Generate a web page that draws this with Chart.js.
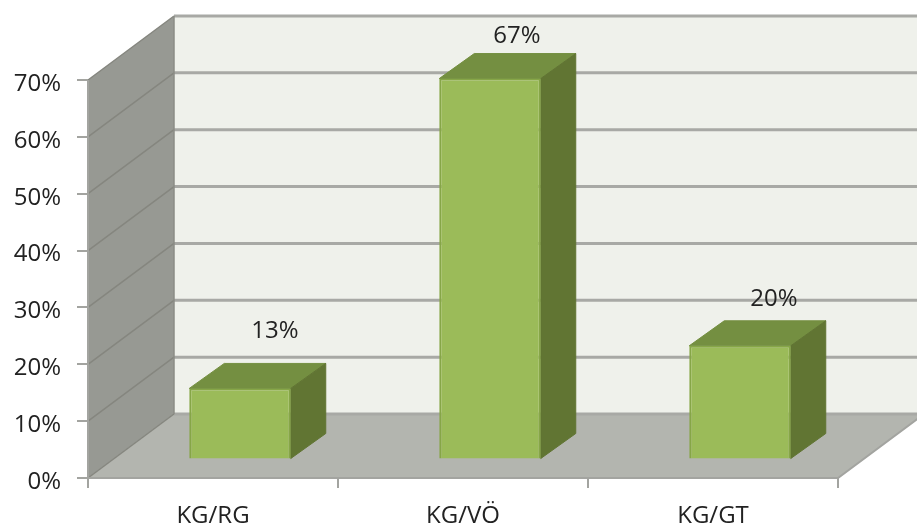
<!DOCTYPE html>
<html lang="de">
<head>
  <meta charset="UTF-8" />
  <title>KG</title>
  <style>
    html, body { margin: 0; padding: 0; background: #fff; }
    canvas { display: block; }
  </style>
</head>
<body>
  <canvas id="grafico" width="917" height="525"></canvas>
  <script src="https://cdn.jsdelivr.net/npm/chart.js"></script>
  <script>
    const categorias = ["KG/RG", "KG/VÖ", "KG/GT"];
    const valores = [12.5, 67, 20];
    const etiquetas = ["13%", "67%", "20%"];
    const yMax = 70;
    const yPaso = 10;

    // 3D look: depth of the room and of the bars, and where the bars sit on the floor
    const PARED = { dx: 86, dy: -64 };
    const CAJA = { dx: 35, dy: -25 };
    const DESPLAZA = { dx: 27, dy: -18.5 };
    const ETIQUETA_OFFSET = [{ x: 35, y: -57 }, { x: 27, y: -42 }, { x: 34, y: -47 }];
    const FUENTE = '"Open Sans", sans-serif';

    function poligono(ctx, puntos, relleno, linea, grosor) {
      ctx.beginPath();
      puntos.forEach((p, i) => i ? ctx.lineTo(p[0], p[1]) : ctx.moveTo(p[0], p[1]));
      ctx.closePath();
      if (relleno) { ctx.fillStyle = relleno; ctx.fill(); }
      if (linea) { ctx.strokeStyle = linea; ctx.lineWidth = grosor || 1; ctx.stroke(); }
    }

    const cuarto3D = {
      id: "cuarto3D",
      beforeDraw(chart) {
        const { ctx, chartArea: a, scales } = chart;
        const d = PARED;
        ctx.save();
        // back wall
        poligono(ctx, [[a.left + d.dx, a.top + d.dy], [a.right + d.dx, a.top + d.dy],
          [a.right + d.dx, a.bottom + d.dy], [a.left + d.dx, a.bottom + d.dy]], "#eff1eb");
        // left wall
        poligono(ctx, [[a.left, a.top], [a.left + d.dx, a.top + d.dy],
          [a.left + d.dx, a.bottom + d.dy], [a.left, a.bottom]], "#979993");
        // floor
        poligono(ctx, [[a.left, a.bottom], [a.right, a.bottom],
          [a.right + d.dx, a.bottom + d.dy], [a.left + d.dx, a.bottom + d.dy]], "#b3b5af");

        // grid lines follow the y scale, bent over the two walls
        scales.y.ticks.forEach(t => {
          const y = scales.y.getPixelForValue(t.value);
          ctx.beginPath();
          ctx.moveTo(a.left + d.dx, y + d.dy);
          ctx.lineTo(a.right + d.dx, y + d.dy);
          ctx.strokeStyle = "#a8a9a5";
          ctx.lineWidth = 3;
          ctx.stroke();
          ctx.beginPath();
          ctx.moveTo(a.left, y);
          ctx.lineTo(a.left + d.dx, y + d.dy);
          ctx.strokeStyle = "#85867f";
          ctx.lineWidth = 1.5;
          ctx.stroke();
        });

        // room edges
        ctx.strokeStyle = "#8b8c86";
        ctx.lineWidth = 1.5;
        ctx.beginPath();
        ctx.moveTo(a.left + d.dx, a.top + d.dy);
        ctx.lineTo(a.left + d.dx, a.bottom + d.dy);
        ctx.stroke();
        ctx.strokeStyle = "#a3a4a0";
        ctx.lineWidth = 2;
        ctx.beginPath();
        ctx.moveTo(a.left, a.top);
        ctx.lineTo(a.left, a.bottom);
        ctx.lineTo(a.right, a.bottom);
        ctx.lineTo(a.right + d.dx, a.bottom + d.dy);
        ctx.stroke();
        ctx.restore();
      },
      beforeDatasetsDraw(chart) {
        const { ctx } = chart;
        const c = CAJA;
        ctx.save();
        ctx.translate(DESPLAZA.dx, DESPLAZA.dy);
        chart.getDatasetMeta(0).data.forEach(b => {
          const izq = b.x - b.width / 2, der = b.x + b.width / 2;
          poligono(ctx, [[izq, b.y], [izq + c.dx, b.y + c.dy], [der + c.dx, b.y + c.dy], [der, b.y]], "#748f41", "#748f41", 1);
          poligono(ctx, [[der, b.y], [der + c.dx, b.y + c.dy], [der + c.dx, b.base + c.dy], [der, b.base]], "#617533", "#617533", 1);
        });
      },
      afterDatasetsDraw(chart) {
        const { ctx } = chart;
        ctx.restore();
        ctx.save();
        ctx.font = "24px " + FUENTE;
        ctx.fillStyle = "#222";
        ctx.textAlign = "center";
        ctx.textBaseline = "middle";
        chart.getDatasetMeta(0).data.forEach((b, i) => {
          const o = ETIQUETA_OFFSET[i];
          ctx.fillText(etiquetas[i], b.x + DESPLAZA.dx + o.x, b.y + DESPLAZA.dy + o.y);
        });
        ctx.restore();
      }
    };

    new Chart(document.getElementById("grafico"), {
      type: "bar",
      data: {
        labels: categorias,
        datasets: [{
          data: valores,
          backgroundColor: "#9bbb59",
          borderColor: "#86a647",
          borderWidth: 2,
          barPercentage: 0.406,
          categoryPercentage: 1
        }]
      },
      options: {
        responsive: false,
        animation: false,
        events: [],
        layout: { padding: { top: 80, right: 79, left: 0, bottom: 0 } },
        plugins: { legend: { display: false }, tooltip: { enabled: false } },
        scales: {
          x: {
            afterFit: s => { s.height = 47; },
            grid: { drawOnChartArea: false, tickLength: 10, color: "#a3a4a0", lineWidth: 2, offset: true },
            border: { display: false },
            ticks: { color: "#222", font: { family: FUENTE, size: 24 }, padding: 14, maxRotation: 0 }
          },
          y: {
            min: 0,
            max: yMax,
            afterFit: s => { s.width = 88; },
            grid: { drawOnChartArea: false, tickLength: 11, color: "#a3a4a0", lineWidth: 2 },
            border: { display: false },
            ticks: { stepSize: yPaso, color: "#222", font: { family: FUENTE, size: 24 }, padding: 16, labelOffset: 4, callback: v => v + "%" }
          }
        }
      },
      plugins: [cuarto3D]
    });
  </script>
</body>
</html>
